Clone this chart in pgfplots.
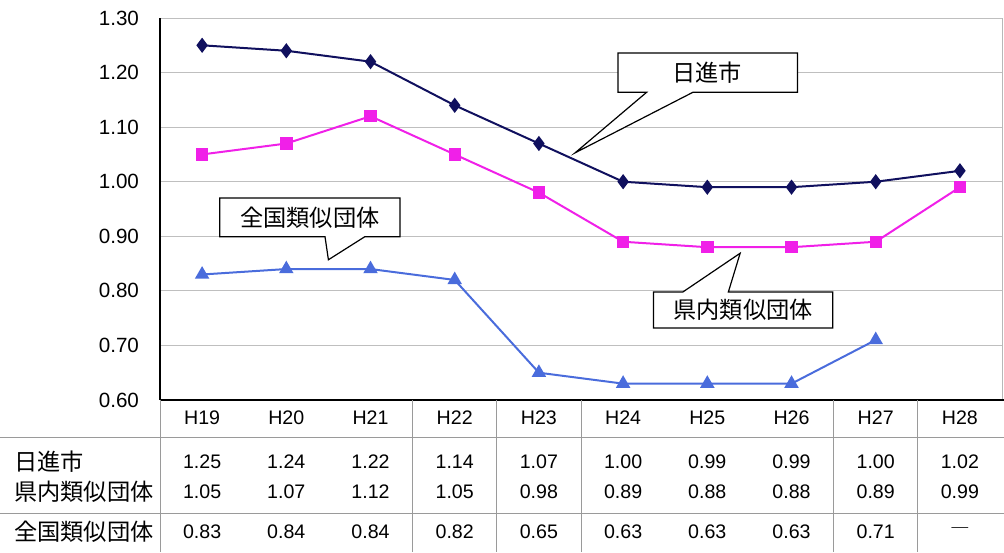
\documentclass[border=0pt]{standalone}
\usepackage{pgfplots}
\pgfplotsset{compat=1.18}
\usepackage{fontspec}
\setmainfont{Liberation Sans}
\newfontfamily\cjk{Noto Sans CJK JP}
\definecolor{navy}{HTML}{10105E}
\definecolor{mag}{HTML}{F020E8}
\definecolor{blu}{HTML}{4A6CDC}
\definecolor{grid}{HTML}{9A9A9A}
\begin{document}
\begin{tikzpicture}
\useasboundingbox (-80pt,-76pt) rectangle (422pt,200pt);
\begin{axis}[
  scale only axis, width=421pt, height=191pt,
  xmin=-0.5, xmax=9.5, ymin=0.6, ymax=1.3,
  xtick=\empty,
  ytick={0.6,0.7,...,1.31},
  /pgf/number format/fixed, /pgf/number format/fixed zerofill, /pgf/number format/precision=2, /pgf/number format/assume math mode=true,
  yticklabel style={font=\fontsize{10.3}{12}\selectfont, xshift=-7pt},
  major tick length=0pt,
  ymajorgrids, grid style={grid, line width=0.5pt},
  axis line style={draw=none},
  clip=false,
]
% axis frame
\draw[black, line width=0.7pt] (axis cs:-0.5,1.3) -- (axis cs:-0.5,0.6);
\draw[grid!70, line width=0.4pt] (axis cs:9.5,1.3) -- (axis cs:9.5,0.6);

\addplot[blu, line width=1pt, mark=triangle*, mark size=3.2pt, mark options={fill=blu, draw=blu}] coordinates {
(0,0.83)(1,0.84)(2,0.84)(3,0.82)(4,0.65)(5,0.63)(6,0.63)(7,0.63)(8,0.71)};
\addplot[mag, line width=1pt, mark=square*, mark size=2.6pt, mark options={fill=mag, draw=mag}] coordinates {
(0,1.05)(1,1.07)(2,1.12)(3,1.05)(4,0.98)(5,0.89)(6,0.88)(7,0.88)(8,0.89)(9,0.99)};
\addplot[navy, line width=1pt, mark=diamond*, mark size=3pt, mark options={fill=navy, draw=navy}] coordinates {
(0,1.25)(1,1.24)(2,1.22)(3,1.14)(4,1.07)(5,1.00)(6,0.99)(7,0.99)(8,1.00)(9,1.02)};

% callouts
\draw[black, line width=0.6pt, fill=white] (axis cs:4.94,1.236) -- (axis cs:7.07,1.236) -- (axis cs:7.07,1.164) -- (axis cs:5.83,1.164) -- (axis cs:4.43,1.053) -- (axis cs:5.28,1.164) -- (axis cs:4.94,1.164) -- cycle;
\node[font=\cjk\fontsize{11.6}{13}\selectfont] at (axis cs:6.0,1.200) {日進市};

\draw[black, line width=0.6pt, fill=white] (axis cs:0.21,0.970) -- (axis cs:2.35,0.970) -- (axis cs:2.35,0.899) -- (axis cs:1.93,0.899) -- (axis cs:1.50,0.857) -- (axis cs:1.46,0.899) -- (axis cs:0.21,0.899) -- cycle;
\node[font=\cjk\fontsize{11.6}{13}\selectfont] at (axis cs:1.28,0.9345) {全国類似団体};

\draw[black, line width=0.6pt, fill=white] (axis cs:5.36,0.798) -- (axis cs:5.71,0.798) -- (axis cs:6.39,0.869) -- (axis cs:6.25,0.798) -- (axis cs:7.49,0.798) -- (axis cs:7.49,0.732) -- (axis cs:5.36,0.732) -- cycle;
\node[font=\cjk\fontsize{11.6}{13}\selectfont] at (axis cs:6.425,0.765) {県内類似団体};
\end{axis}

% table (column width 42.1pt, axis bottom at y=0)
\draw[black, line width=1.2pt] (0,0) -- (422pt,0);
\draw[grid, line width=0.5pt] (-80pt,-18.5pt) -- (422pt,-18.5pt);
\draw[grid, line width=0.5pt] (-80pt,-56.5pt) -- (422pt,-56.5pt);
\foreach \c in {0,3,4,5,8,9} {
  \draw[grid, line width=0.5pt] (\c*42.1pt,0) -- (\c*42.1pt,-76pt);
}
\foreach \i/\lab in {0/H19,1/H20,2/H21,3/H22,4/H23,5/H24,6/H25,7/H26,8/H27,9/H28} {
  \node[font=\fontsize{9.8}{11}\selectfont] at ({(\i+0.5)*42.1pt},-9pt) {\lab};
}
\node[font=\cjk\fontsize{11.6}{13}\selectfont, anchor=west, inner xsep=0pt] at (-73pt,-31pt) {日進市};
\node[font=\cjk\fontsize{11.6}{13}\selectfont, anchor=west, inner xsep=0pt] at (-73pt,-46pt) {県内類似団体};
\node[font=\cjk\fontsize{11.6}{13}\selectfont, anchor=west, inner xsep=0pt] at (-73pt,-66pt) {全国類似団体};
\foreach \i/\v in {0/1.25,1/1.24,2/1.22,3/1.14,4/1.07,5/1.00,6/0.99,7/0.99,8/1.00,9/1.02} {
  \node[font=\fontsize{9.8}{11}\selectfont] at ({(\i+0.5)*42.1pt},-31pt) {\v};
}
\foreach \i/\v in {0/1.05,1/1.07,2/1.12,3/1.05,4/0.98,5/0.89,6/0.88,7/0.88,8/0.89,9/0.99} {
  \node[font=\fontsize{9.8}{11}\selectfont] at ({(\i+0.5)*42.1pt},-46pt) {\v};
}
\foreach \i/\v in {0/0.83,1/0.84,2/0.84,3/0.82,4/0.65,5/0.63,6/0.63,7/0.63,8/0.71} {
  \node[font=\fontsize{9.8}{11}\selectfont] at ({(\i+0.5)*42.1pt},-66pt) {\v};
}
\node[font=\cjk\fontsize{9.8}{11}\selectfont] at ({9.5*42.1pt},-66pt) {―};
\end{tikzpicture}
\end{document}
